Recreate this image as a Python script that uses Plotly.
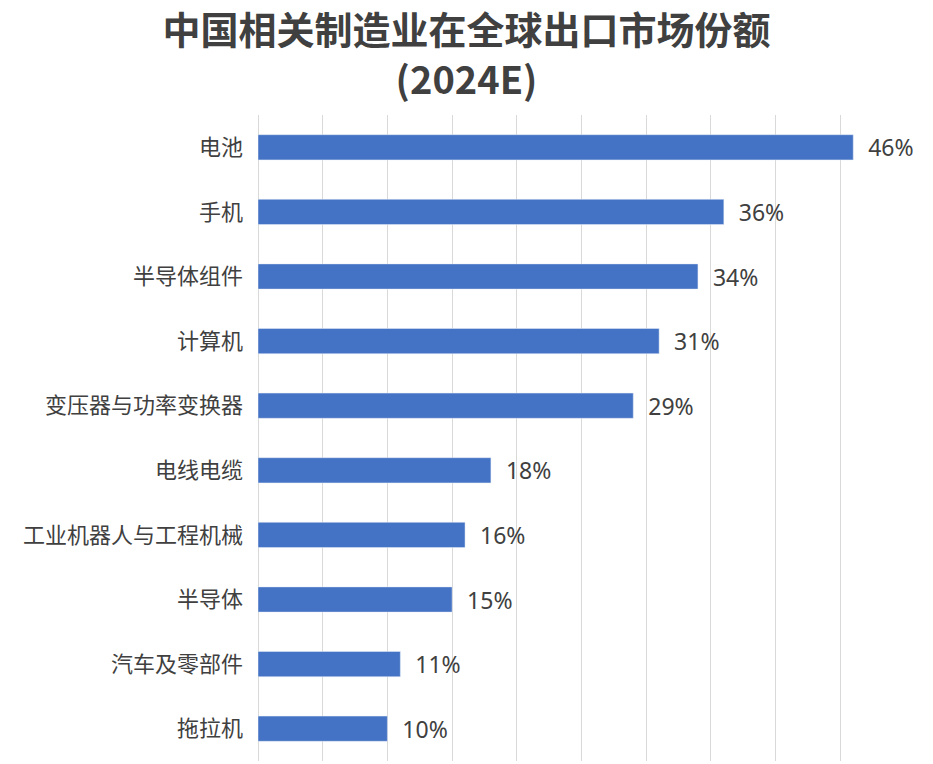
import plotly.graph_objects as go

categories = ["电池", "手机", "半导体组件", "计算机", "变压器与功率变换器",
              "电线电缆", "工业机器人与工程机械", "半导体", "汽车及零部件", "拖拉机"]
shares = [46, 36, 34, 31, 29, 18, 16, 15, 11, 10]

fig = go.Figure(go.Bar(
    x=shares,
    y=categories,
    orientation="h",
    marker=dict(color="#4472C4"),
    texttemplate="  %{x}%",
    textposition="outside",
    constraintext="none",
    textfont=dict(family="Noto Sans, Open Sans, sans-serif", size=23, color="#404040"),
    cliponaxis=False,
))

fig.update_layout(
    width=933, height=764,
    margin=dict(l=258, r=28, t=115, b=3),
    paper_bgcolor="white", plot_bgcolor="white",
    bargap=0.61,
    showlegend=False,
    title=dict(
        text="<b>中国相关制造业在全球出口市场份额<br>(2024E)</b>",
        x=0.5, xanchor="center",
        yref="container", y=0.942, yanchor="top",
        font=dict(family="Noto Sans CJK SC, sans-serif", size=38, color="#404040"),
    ),
    xaxis=dict(
        range=[0, 50], dtick=5, showticklabels=False,
        showgrid=True, gridcolor="#D9D9D9", gridwidth=1,
        zeroline=True, zerolinecolor="#D9D9D9", zerolinewidth=1,
        showline=False, fixedrange=True,
    ),
    yaxis=dict(
        autorange="reversed",
        tickfont=dict(family="Noto Sans CJK SC, sans-serif", size=22, color="#404040"),
        ticklabelstandoff=14,
        showgrid=False, showline=False, ticks="",
    ),
)

fig.write_html("out.html")
